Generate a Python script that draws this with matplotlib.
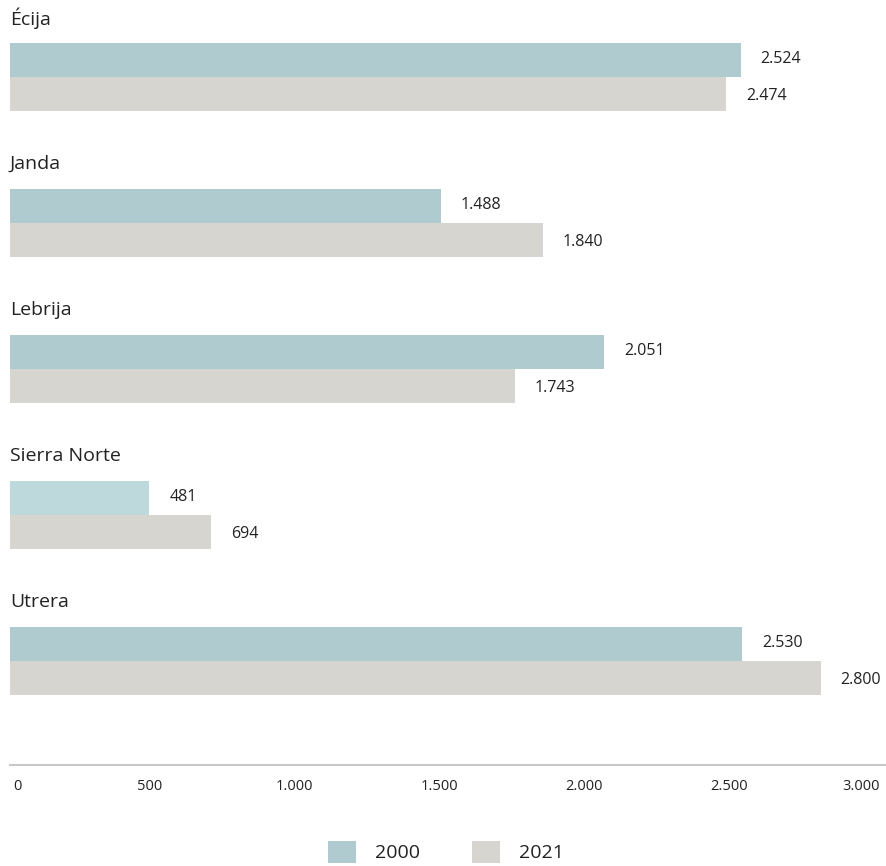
import matplotlib
matplotlib.use("Agg")
import matplotlib.pyplot as plt
from matplotlib.patches import Patch
from matplotlib.transforms import ScaledTranslation

plt.rcParams['font.family'] = ['Open Sans', 'DejaVu Sans']

categories = ["Écija", "Janda", "Lebrija", "Sierra Norte", "Utrera"]
values_2000 = [2524, 1488, 2051, 481, 2530]
values_2021 = [2474, 1840, 1743, 694, 2800]
series_names = ["2000", "2021"]
ticks = [0, 500, 1000, 1500, 2000, 2500, 3000]

def fmt(v):
    return f"{v:,}".replace(",", ".")

W, H = 887, 866
fig = plt.figure(figsize=(W / 100, H / 100), dpi=100)
fig.patch.set_facecolor("white")

ax_left, ax_right = 10, 887
ax_top, ax_bottom = 0, 765
ax = fig.add_axes([ax_left / W, 1 - ax_bottom / H, (ax_right - ax_left) / W, (ax_bottom - ax_top) / H])

col_2000 = "#afcbd0"
col_2000_hl = "#bdd9dc"
col_2021 = "#d6d5d0"
text_col = "#222222"

px_per_unit = 0.2895
ax.set_xlim(0, (ax_right - ax_left) / px_per_unit)
ax.set_ylim(ax_bottom, ax_top)

bar_h = 34
group_step = 146
first_center = 77
off_px = 20 / px_per_unit

for i, cat in enumerate(categories):
    gc = first_center + group_step * i
    c0 = col_2000_hl if cat == "Sierra Norte" else col_2000
    ax.barh(gc - bar_h / 2, values_2000[i], height=bar_h, color=c0, left=0)
    ax.barh(gc + bar_h / 2, values_2021[i], height=bar_h, color=col_2021, left=0)
    ax.text(values_2000[i] + off_px, gc - bar_h / 2 - 1, fmt(values_2000[i]),
            ha="left", va="center", fontsize=11.5, color=text_col)
    ax.text(values_2021[i] + off_px, gc + bar_h / 2 + 2, fmt(values_2021[i]),
            ha="left", va="center", fontsize=11.5, color=text_col)
    ax.text(0, gc - bar_h - 25, cat, ha="left", va="center", fontsize=14, color=text_col)

for s in ["top", "right", "left"]:
    ax.spines[s].set_visible(False)
ax.spines["bottom"].set_color("#c8c8c8")
ax.spines["bottom"].set_linewidth(1.5)
ax.set_yticks([])
ax.set_xticks(ticks)
ax.set_xticklabels([fmt(t) for t in ticks], fontsize=10.5, color=text_col)
ax.tick_params(axis="x", length=0, pad=10)

labels = ax.get_xticklabels()
for lab in labels:
    lab.set_transform(lab.get_transform() + ScaledTranslation(-5 / 100, 0, fig.dpi_scale_trans))
labels[0].set_ha("left")
labels[0].set_transform(labels[0].get_transform() + ScaledTranslation(8 / 100, 0, fig.dpi_scale_trans))
labels[-1].set_ha("right")
labels[-1].set_transform(labels[-1].get_transform() + ScaledTranslation(6 / 100, 0, fig.dpi_scale_trans))

handles = [Patch(facecolor=col_2000, edgecolor="none"), Patch(facecolor=col_2021, edgecolor="none")]
fig.legend(handles, series_names, loc="center", bbox_to_anchor=(446 / W, 1 - 852 / H),
           ncol=2, frameon=False, fontsize=14, handlelength=1.44, handleheight=1.39,
           handletextpad=0.95, columnspacing=2.7, labelcolor=text_col)

fig.savefig("out.png", dpi=100, facecolor="white")
